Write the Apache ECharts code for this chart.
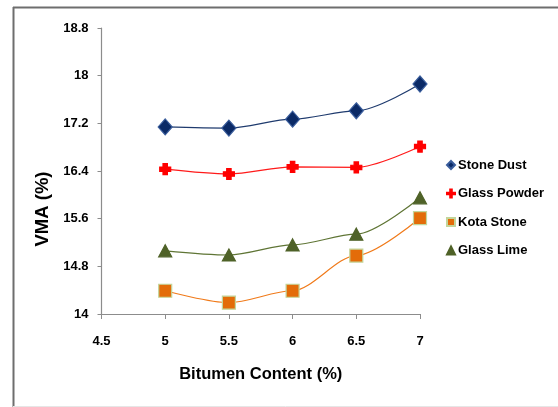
<!DOCTYPE html>
<html>
<head>
<meta charset="utf-8">
<script src="https://cdn.jsdelivr.net/npm/echarts@6/dist/echarts.min.js"></script>
<style>
  html, body { margin: 0; padding: 0; background: #fff; }
  #chart { width: 558px; height: 407px; }
</style>
</head>
<body>
<div id="chart"></div>
<script>
// Bitumen content (%) on the x axis
const bitumen = [5, 5.5, 6, 6.5, 7];

// VMA (%) for each filler type
const stoneDust   = [17.14, 17.12, 17.27, 17.41, 17.86];
const glassPowder = [16.43, 16.35, 16.47, 16.46, 16.81];
const kotaStone   = [14.39, 14.19, 14.39, 14.98, 15.61];
const glassLime   = [15.06, 14.99, 15.16, 15.34, 15.95];

const seriesNames = ['Stone Dust', 'Glass Powder', 'Kota Stone', 'Glass Lime'];

const FONT = 'Liberation Sans, Arial, sans-serif';

const pairs = ys => bitumen.map((x, i) => [x, ys[i]]);

const plusPath = 'path://M3,0 L7,0 L7,3 L10,3 L10,7 L7,7 L7,10 L3,10 L3,7 L0,7 L0,3 L3,3 Z';
const thinPlus = 'path://M4,0 L6,0 L6,4 L10,4 L10,6 L6,6 L6,10 L4,10 L4,6 L0,6 L0,4 L4,4 Z';

const styles = [
  { data: stoneDust,   line: '#1f3b6e', fill: '#0b2a66', border: '#3a5d9c', symbol: 'diamond',  size: [14, 16], icon: 'diamond' },
  { data: glassPowder, line: '#ff1a1a', fill: '#ff0000', border: '#ff0000', symbol: plusPath,   size: [11, 11], icon: thinPlus },
  { data: kotaStone,   line: '#f07a1a', fill: '#e36c09', border: '#c3d69b', symbol: 'rect',     size: [13, 13], icon: 'rect' },
  { data: glassLime,   line: '#5f7535', fill: '#4f6228', border: '#4f6228', symbol: 'triangle', size: [13, 12], icon: 'triangle' }
];

const series = [];
// connecting curves
styles.forEach(s => {
  series.push({
    type: 'line',
    data: pairs(s.data),
    smooth: 0.3,
    smoothMonotone: 'x',
    showSymbol: false,
    silent: true,
    lineStyle: { color: s.line, width: 1.2 },
    z: 2
  });
});
// measured points
styles.forEach((s, i) => {
  series.push({
    name: seriesNames[i],
    type: 'scatter',
    data: pairs(s.data),
    symbol: s.symbol,
    symbolSize: s.size,
    itemStyle: { color: s.fill, borderColor: s.border, borderWidth: 1.2, opacity: 1 },
    z: 3
  });
});

const chart = echarts.init(document.getElementById('chart'), null, { renderer: 'canvas' });

chart.setOption({
  animation: false,
  backgroundColor: '#ffffff',
  textStyle: { fontFamily: FONT },
  grid: { left: 101.5, right: 138, top: 28, bottom: 93, containLabel: false },
  xAxis: {
    type: 'value',
    min: 4.5, max: 7, interval: 0.5,
    name: 'Bitumen Content (%)',
    nameLocation: 'middle',
    nameGap: 52,
    nameTextStyle: { fontSize: 16.5, fontWeight: 'bold', color: '#000', fontFamily: FONT },
    axisLine: { show: true, lineStyle: { color: '#8c8c8c', width: 1.2 } },
    axisTick: { show: true, inside: false, length: 5, lineStyle: { color: '#8c8c8c' } },
    axisLabel: { fontSize: 13, fontWeight: 'bold', color: '#000', margin: 21, fontFamily: FONT },
    splitLine: { show: false }
  },
  yAxis: {
    type: 'value',
    min: 14, max: 18.8, interval: 0.8,
    axisLine: { show: true, lineStyle: { color: '#8c8c8c', width: 1.2 } },
    axisTick: { show: true, inside: false, length: 4, lineStyle: { color: '#8c8c8c' } },
    axisLabel: { fontSize: 13, fontWeight: 'bold', color: '#000', margin: 13, fontFamily: FONT },
    splitLine: { show: false }
  },
  legend: {
    orient: 'vertical',
    left: 441,
    top: 153.5,
    itemGap: 15.5,
    itemWidth: 8,
    itemHeight: 8,
    textStyle: { fontSize: 13, fontWeight: 'bold', color: '#000', fontFamily: FONT, padding: [0, 0, 0, -2] },
    data: seriesNames.map((n, i) => ({ name: n, icon: styles[i].icon }))
  },
  graphic: [
    { type: 'line', shape: { x1: 13, y1: 7.5, x2: 558, y2: 7.5 }, style: { stroke: '#6e6e6e', lineWidth: 2 }, silent: true },
    { type: 'line', shape: { x1: 13.5, y1: 7, x2: 13.5, y2: 407 }, style: { stroke: '#6e6e6e', lineWidth: 2 }, silent: true },
    { type: 'line', shape: { x1: 13, y1: 406.5, x2: 558, y2: 406.5 }, style: { stroke: '#e6e6e6', lineWidth: 1 }, silent: true },
    {
      type: 'text',
      x: 43, y: 209,
      rotation: Math.PI / 2,
      silent: true,
      style: {
        text: 'VMA (%)',
        fill: '#000',
        font: 'bold 18.5px ' + FONT,
        align: 'center',
        verticalAlign: 'middle'
      }
    }
  ],
  series: series
});
</script>
</body>
</html>
